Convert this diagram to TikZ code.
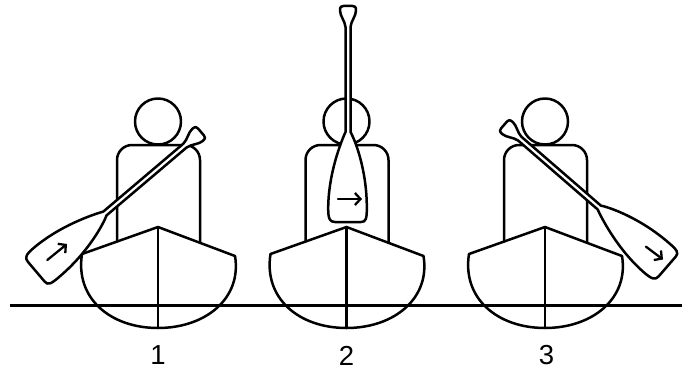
\documentclass[tikz,border=0pt]{standalone}
\usepackage{fontspec}
\setmainfont{Liberation Sans}
\usetikzlibrary{arrows.meta}

\tikzset{
  outline/.style={line width=2.5pt, line join=round, line cap=round, draw=black},
  waterline/.style={line width=2.6pt, draw=black},
  motion/.style={line width=2.3pt, line cap=round,
    -{Straight Barb[length=5.5pt, width=12pt, line width=2.3pt]}},
  lbl/.style={font=\fontsize{27.5}{28}\selectfont, inner sep=0pt},
  % canoe paddle, grip top at the origin, blade pointing along +v (down)
  paddle/.pic={
    \draw[outline, fill=white]
      (-2.5,21) .. controls (-3,15) and (-8,10) .. (-8,4.5)
      .. controls (-8,0.5) and (-6.5,0) .. (-4.5,0) -- (4.5,0)
      .. controls (6.5,0) and (8,0.5) .. (8,4.5)
      .. controls (8,10) and (3,15) .. (2.5,21)
      -- (2.5,126)
      .. controls (7,134) and (18.5,163) .. (18.8,200)
      .. controls (19,213) and (18,216) .. (13,216)
      -- (-13,216)
      .. controls (-18,216) and (-19.8,213) .. (-19.8,203)
      .. controls (-19.8,168) and (-7,136) .. (-2.5,126)
      -- cycle;
  }
}

% paddler seated in a canoe, centred on x = #1
\newcommand\canoer[1]{%
  % torso
  \draw[outline, rounded corners=15pt]
    (#1-41,241.6) -- (#1-41,145) -- (#1+42,145) -- (#1+42,242.8);
  % head
  \draw[outline] (#1,121.5) circle[radius=23];
  % gunwale and hull
  \draw[outline] (#1-76,254) -- (#1,227) -- (#1+77,256);
  \draw[outline] (#1-76,254) .. controls (#1-83,298) and (#1-48,328) .. (#1,328)
    .. controls (#1+48,328) and (#1+84,298) .. (#1+77,256);
  % keel
  \draw[outline] (#1,227) -- (#1,328);
}

\begin{document}
\begin{tikzpicture}[x=1pt, y=-1pt]
  \useasboundingbox (0,0) rectangle (682,369);

  % water surface
  \draw[waterline] (9.5,305.5) -- (682,305.5);

  \canoer{158}
  \canoer{346.5}
  \canoer{545}

  % paddles
  \pic[rotate=-49.7] at (201,132) {paddle};
  \pic at (348,6) {paddle};
  \pic[rotate=49.1] at (504,125) {paddle};

  % stroke directions on the blades
  \draw[motion] (47.3,260) -- (67,244);
  \draw[motion] (338,199) -- (362,199);
  \draw[motion] (646,246.7) -- (663,259.5);

  % step numbers
  \node[lbl] (n1) at (158,355.5) {1};
  \node[lbl] (n2) at (346.5,355.5) {2};
  \node[lbl] (n3) at (546.5,355.5) {3};
\end{tikzpicture}
\end{document}
